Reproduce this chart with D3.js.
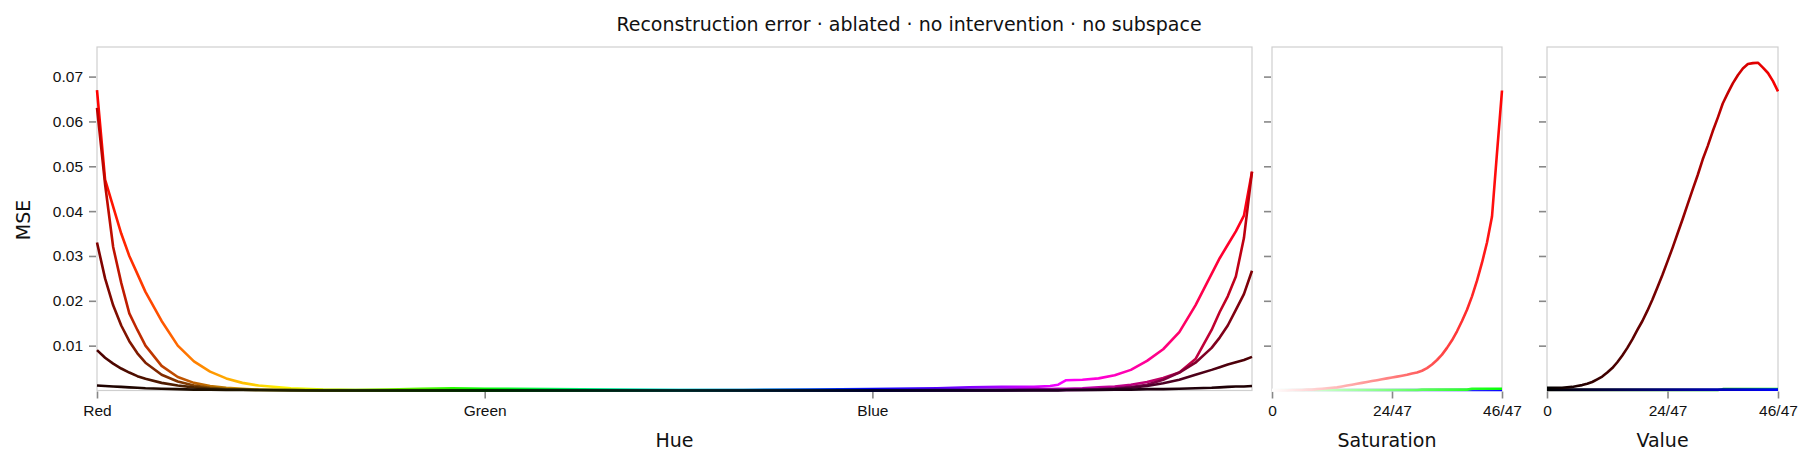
<!DOCTYPE html>
<html><head><meta charset="utf-8">
<script src="https://cdn.jsdelivr.net/npm/d3@7"></script>
<style>body{margin:0;background:#fff}svg{font-family:"DejaVu Sans",sans-serif}</style>
</head><body><svg id="c" width="1817" height="467"></svg>
<script>
// ---- data ----
const title = "Reconstruction error · ablated · no intervention · no subspace";
const hueIdx = [0,1,2,3,4,5,6,8,10,12,14,16,18,20,24,28,32,36,40,44,48,56,64,72,80,88,96,104,108,112,116,118,119,120,122,124,126,128,130,132,134,136,138,139,140,141,142,143]; // in 1/144 steps
const hueV = [1.0, 0.75, 0.5, 0.3, 0.12];
const hueSeries = [
 [0.067,0.047,0.041,0.035,0.030,0.026,0.022,0.0155,0.0100,0.0065,0.0042,0.0027,0.0017,0.0011,0.0005,0.0002,0.0001,0.0002,0.0004,0.0005,0.0004,0.0003,0.0002,0.0001,0.0001,0.0002,0.0003,0.0005,0.0007,0.0008,0.0008,0.0010,0.0013,0.0023,0.0024,0.0027,0.0034,0.0046,0.0066,0.0092,0.0130,0.0190,0.0260,0.0295,0.0325,0.0355,0.0390,0.0488],
 [0.063,0.046,0.032,0.024,0.0172,0.0135,0.0100,0.0055,0.0030,0.0017,0.0010,0.0006,0.0004,0.0002,0.0001,0.0001,0.0001,0.0001,0.0001,0.0001,0.0001,0.0001,0.0001,0.0001,0.0001,0.0001,0.0001,0.0001,0.0001,0.0002,0.0003,0.0003,0.0004,0.0004,0.0005,0.0007,0.0009,0.0013,0.0019,0.0028,0.0040,0.0070,0.0135,0.0175,0.0210,0.0254,0.0340,0.0488],
 [0.033,0.025,0.019,0.0145,0.011,0.0083,0.0062,0.0035,0.0020,0.0011,0.0006,0.0003,0.0002,0.0001,0.0001,0,0,0,0,0,0,0,0,0,0,0,0,0.0001,0.0001,0.0001,0.0001,0.0001,0.0001,0.0001,0.0002,0.0003,0.0005,0.0008,0.0013,0.0024,0.0040,0.0062,0.0095,0.0118,0.0145,0.0180,0.0215,0.0267],
 [0.009,0.0073,0.0060,0.0049,0.0040,0.0032,0.0026,0.0017,0.0011,0.0007,0.0004,0.0002,0.0002,0.0001,0.0001,0,0,0,0,0,0,0,0,0,0,0,0,0,0,0,0.0001,0.0001,0.0001,0.0001,0.0001,0.0002,0.0003,0.0006,0.0010,0.0016,0.0024,0.0035,0.0046,0.0052,0.0058,0.0063,0.0068,0.0075],
 [0.0011,0.0010,0.0009,0.0008,0.0007,0.0006,0.0005,0.0004,0.0003,0.0002,0.0002,0.0001,0.0001,0.0001,0,0,0,0,0,0,0,0,0,0,0,0,0,0,0,0,0,0,0,0.0001,0.0001,0.0001,0.0002,0.0002,0.0003,0.0003,0.0004,0.0005,0.0006,0.0007,0.0008,0.0009,0.0009,0.0010]
];
const satRed = [0,0,0,0,0.0001,0.0001,0.0001,0.0002,0.0002,0.0003,0.0004,0.0005,0.0006,0.0007,0.0009,0.0011,0.0013,0.0015,0.0017,0.0019,0.0021,0.0023,0.0025,0.0027,0.0029,0.0031,0.0033,0.0035,0.0038,0.0040,0.0044,0.0050,0.0058,0.0068,0.0080,0.0095,0.0112,0.0132,0.0155,0.0180,0.0210,0.0245,0.0285,0.0330,0.0388,0.0530,0.0669];
const satGreen = Array.from({length:47},(_, i)=> i<30 ? 0.0001 : (i<40 ? 0.0002 : 0.0004));
const satBlue = Array.from({length:47},()=>0.0001);
const valRed = [0.0006,0.0006,0.0006,0.0006,0.0007,0.0008,0.0010,0.0012,0.0015,0.0019,0.0025,0.0031,0.0040,0.0050,0.0063,0.0078,0.0095,0.0114,0.0135,0.0155,0.0178,0.0203,0.0230,0.0258,0.0288,0.0318,0.0350,0.0382,0.0415,0.0448,0.0480,0.0515,0.0545,0.0578,0.0608,0.0640,0.0663,0.0685,0.0703,0.0718,0.0728,0.0730,0.0731,0.0720,0.0708,0.0690,0.0667];
const valGreen = Array.from({length:47},(_, i)=> i<35 ? 0.0001 : 0.0003);
const valBlue = Array.from({length:47},()=>0.0002);
const yTicks = [0.01,0.02,0.03,0.04,0.05,0.06,0.07];
const hueTicks = [0,1/3,2/3], hueTickLabels = ["Red","Green","Blue"];
const stepTicks = [0,24/47,46/47], stepTickLabels = ["0","24/47","46/47"];

// ---- helpers ----
function hsv(h,s,v){h=((h%1)+1)%1;const i=Math.floor(h*6),f=h*6-i,p=v*(1-s),q=v*(1-f*s),t=v*(1-(1-f)*s);
 const [r,g,b]=[[v,t,p],[q,v,p],[p,v,t],[p,q,v],[t,p,v],[v,p,q]][i%6];return d3.rgb(r*255,g*255,b*255).formatHex();}
const svg=d3.select("#c"), defs=svg.append("defs");
const pTop=47, pBot=390.5;
const y=d3.scaleLinear().domain([0,0.0766]).range([pBot,pTop]);
let gid=0;
function grad(x0,x1,colorAt){const id="g"+(gid++);const g=defs.append("linearGradient").attr("id",id).attr("gradientUnits","userSpaceOnUse").attr("x1",x0).attr("x2",x1).attr("y1",0).attr("y2",0);
 for(let k=0;k<=96;k++){const t=k/96;g.append("stop").attr("offset",t).attr("stop-color",colorAt(t));}return "url(#"+id+")";}
function panel(x0,x1,dom,ticks,labels,label,showY){
 const x=d3.scaleLinear().domain(dom).range([x0,x1]);
 const g=svg.append("g");
 g.append("rect").attr("x",x0).attr("y",pTop).attr("width",x1-x0).attr("height",pBot-pTop).attr("fill","none").attr("stroke","#cfcfcf").attr("stroke-width",1.2);
 const ya=g.append("g").attr("transform",`translate(${x0-1},0)`).call(d3.axisLeft(y).tickValues(yTicks).tickSize(7).tickPadding(6).tickFormat(showY?d3.format(".2f"):""));
 const xa=g.append("g").attr("transform",`translate(0,${pBot+1})`).call(d3.axisBottom(x).tickValues(ticks).tickSize(7).tickPadding(6).tickFormat((d,i)=>labels[i]));
 [ya,xa].forEach(a=>{a.select(".domain").remove();a.selectAll("line").attr("stroke","#888").attr("stroke-width",1.6);a.selectAll("text").attr("fill","#111").style("font-size","15.5px");});
 g.append("text").attr("x",(x0+x1)/2).attr("y",447).attr("text-anchor","middle").style("font-size","19px").attr("fill","#111").text(label);
 return {x,g};
}
const line=(x,xs)=>d3.line().x((d,i)=>x(xs[i])).y(d=>y(d)).curve(d3.curveLinear);
// Hue panel
const H=panel(97,1252,[0,143/144],hueTicks,hueTickLabels,"Hue",true);
const hx=hueIdx.map(k=>k/144);
hueSeries.forEach((s,j)=>{
 const v=hueV[j];
 H.g.append("path").datum(s).attr("d",line(H.x,hx)).attr("fill","none").attr("stroke-width",2.6).attr("stroke-linejoin","round")
  .attr("stroke",grad(H.x(0),H.x(1),t=>hsv(t,1,v)));
});
// Saturation panel
const sIdx=d3.range(47).map(i=>i/47);
const S=panel(1272,1502,[0,46/47],stepTicks,stepTickLabels,"Saturation",false);
[[satBlue,2/3],[satGreen,1/3],[satRed,0]].forEach(([s,h])=>{
 S.g.append("path").datum(s).attr("d",line(S.x,sIdx)).attr("fill","none").attr("stroke-width",2.6).attr("stroke-linejoin","round")
  .attr("stroke",grad(S.x(0),S.x(1),t=>hsv(h,t,1)));
});
// Value panel
const V=panel(1547,1778,[0,46/47],stepTicks,stepTickLabels,"Value",false);
[[valGreen,1/3],[valBlue,2/3],[valRed,0]].forEach(([s,h])=>{
 V.g.append("path").datum(s).attr("d",line(V.x,sIdx)).attr("fill","none").attr("stroke-width",2.6).attr("stroke-linejoin","round")
  .attr("stroke",grad(V.x(0),V.x(1),t=>hsv(h,1,t)));
});
svg.append("text").attr("x",24).attr("y",220).attr("transform","rotate(-90,24,220)").attr("text-anchor","middle").attr("dominant-baseline","middle").style("font-size","19px").attr("fill","#111").text("MSE");
svg.append("text").attr("x",909).attr("y",31).attr("text-anchor","middle").style("font-size","19px").attr("fill","#111").text(title);
</script></body></html>
